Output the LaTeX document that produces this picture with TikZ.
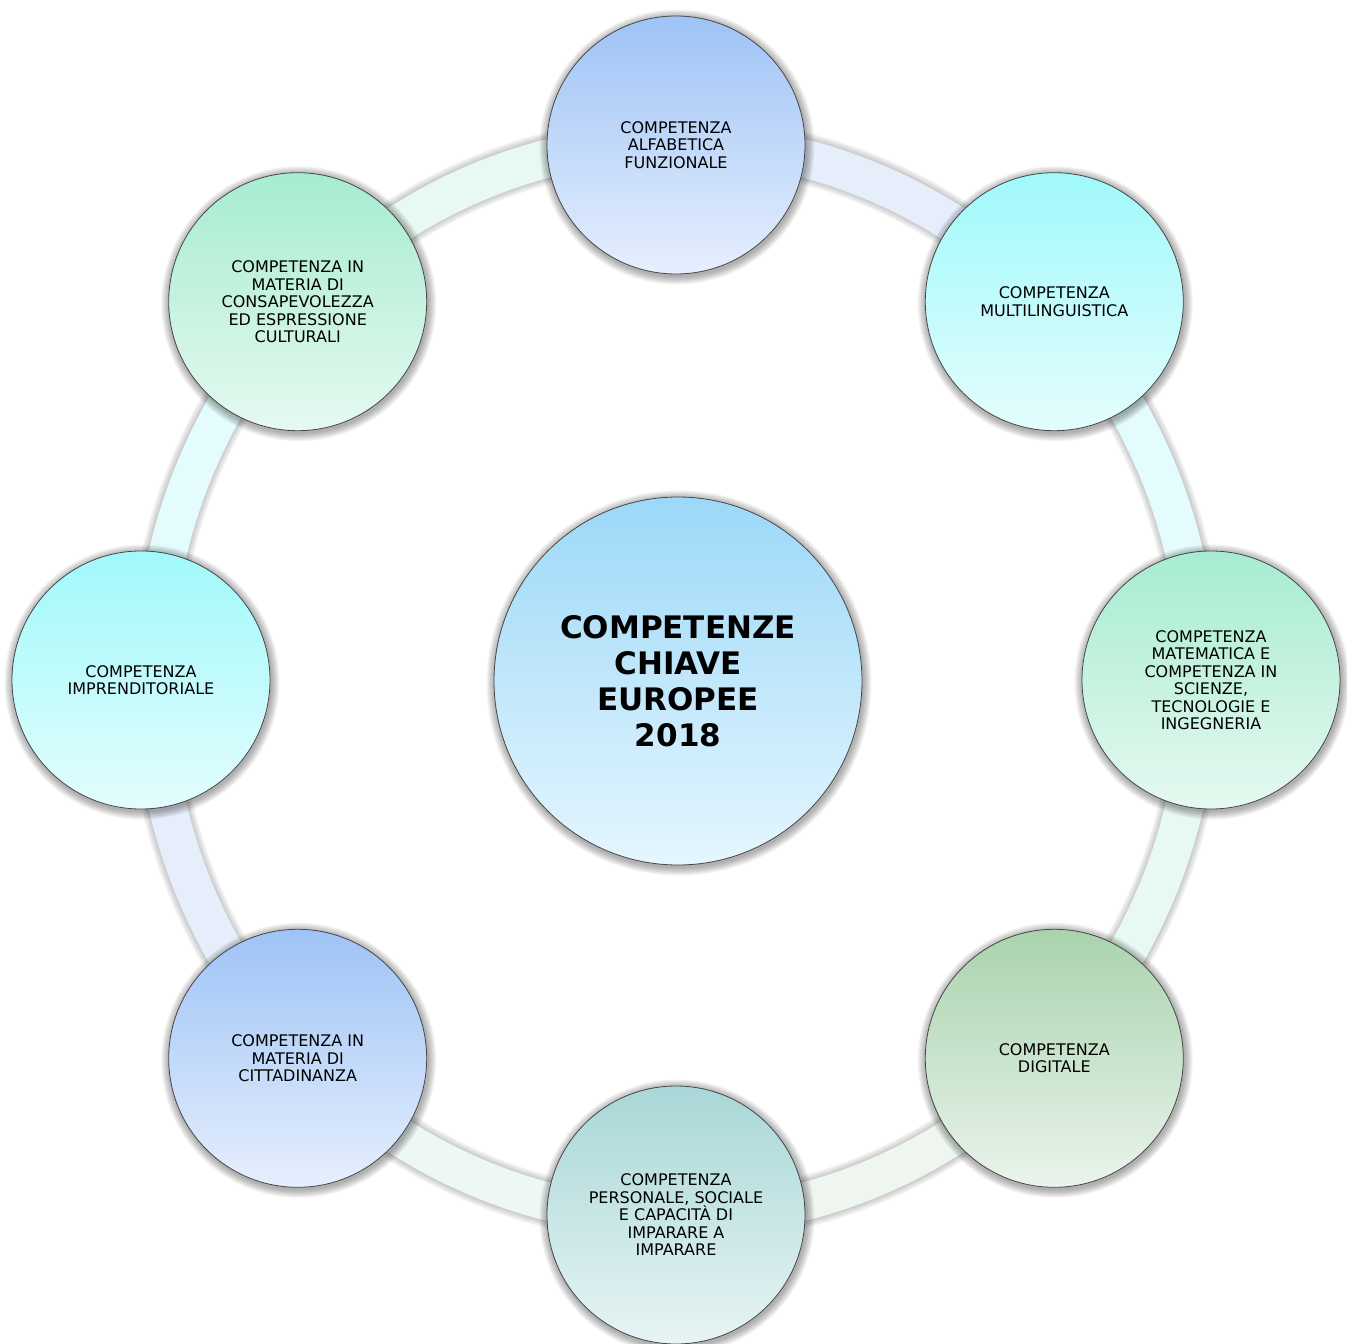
\documentclass[tikz,border=0pt]{standalone}
\usepackage{fontspec}
\setmainfont{DejaVu Sans}
\usetikzlibrary{backgrounds}

\definecolor{blueTop}{HTML}{9EC3F6}
\definecolor{blueBot}{HTML}{E6EFFD}
\definecolor{cyanTop}{HTML}{A0F9FB}
\definecolor{cyanBot}{HTML}{E4FDFD}
\definecolor{greenTop}{HTML}{A6ECD1}
\definecolor{greenBot}{HTML}{E6F9F0}
\definecolor{sageTop}{HTML}{A9D3AD}
\definecolor{sageBot}{HTML}{EAF4EC}
\definecolor{tealTop}{HTML}{A9D7D7}
\definecolor{tealBot}{HTML}{E7F4F4}
\definecolor{skyTop}{HTML}{9CD8F8}
\definecolor{skyBot}{HTML}{E5F6FE}
\definecolor{segBlue}{HTML}{E6EEFC}
\definecolor{segCyan}{HTML}{E4FCFD}
\definecolor{segGreen}{HTML}{E8F9F1}
\definecolor{segSage}{HTML}{EEF6EF}
\definecolor{segTeal}{HTML}{EDF7F6}

\begin{document}
\begin{tikzpicture}[x=1pt, y=1pt,
  every node/.style={circle, draw=gray!55!black, line width=0.8pt, align=center, inner sep=0pt,
    font=\fontsize{16}{17.5}\selectfont, minimum size=258pt},
  blueBall/.style={top color=blueTop, middle color=blueTop!65!blueBot, bottom color=blueBot},
  cyanBall/.style={top color=cyanTop, middle color=cyanTop!65!cyanBot, bottom color=cyanBot},
  greenBall/.style={top color=greenTop, middle color=greenTop!65!greenBot, bottom color=greenBot},
  sageBall/.style={top color=sageTop, middle color=sageTop!65!sageBot, bottom color=sageBot},
  tealBall/.style={top color=tealTop, middle color=tealTop!65!tealBot, bottom color=tealBot},
  ringSeg/.style={line width=38pt}]
	\useasboundingbox (-676,-664) rectangle (671,680);

	\node[blueBall] (compAlfabetica) at (90:535) {COMPETENZA\\ALFABETICA\\FUNZIONALE};
	\node[cyanBall] (compMultilinguistica) at (45:535) {COMPETENZA\\MULTILINGUISTICA};
	\node[greenBall] (compMatematica) at (0:535) {COMPETENZA\\MATEMATICA E\\COMPETENZA IN\\SCIENZE,\\TECNOLOGIE E\\INGEGNERIA};
	\node[sageBall] (compDigitale) at (-45:535) {COMPETENZA\\DIGITALE};
	\node[tealBall] (compPersonale) at (-90:535) {COMPETENZA\\PERSONALE, SOCIALE\\E CAPACITÀ DI\\IMPARARE A\\IMPARARE};
	\node[blueBall] (compCittadinanza) at (-135:535) {COMPETENZA IN\\MATERIA DI\\CITTADINANZA};
	\node[cyanBall] (compImprenditoriale) at (180:535) {COMPETENZA\\IMPRENDITORIALE};
	\node[greenBall] (compCulturali) at (135:535) {COMPETENZA IN\\MATERIA DI\\CONSAPEVOLEZZA\\ED ESPRESSIONE\\CULTURALI};

	\node[top color=skyTop, middle color=skyTop!65!skyBot, bottom color=skyBot, minimum size=368pt,
	  font=\fontsize{31}{36}\selectfont\bfseries] (keyCompetences) at (2,-1) {COMPETENZE\\CHIAVE\\EUROPEE\\2018};

	\begin{scope}[on background layer]
		\foreach \w in {40,42,...,52}
			\draw[line width=\w pt, black, opacity=0.03] (0,0) ellipse[x radius=523, y radius=538];

		\foreach \a/\c in {90/segBlue, 45/segCyan, 0/segGreen, -45/segSage, -90/segTeal, -135/segBlue, -180/segCyan, -225/segGreen}
			\draw[ringSeg, \c] (\a:523 and 538) arc[start angle=\a, delta angle=-45, x radius=523, y radius=538];

		\foreach \n/\r in {compAlfabetica/129, compMultilinguistica/129, compMatematica/129, compDigitale/129,
		  compPersonale/129, compCittadinanza/129, compImprenditoriale/129, compCulturali/129, keyCompetences/184}
			\foreach \k in {1,...,7}
				\fill[black, opacity=0.05] ([xshift=1pt, yshift=-2pt]\n.center) circle[radius=\r+1.2*\k];
	\end{scope}
\end{tikzpicture}
\end{document}
